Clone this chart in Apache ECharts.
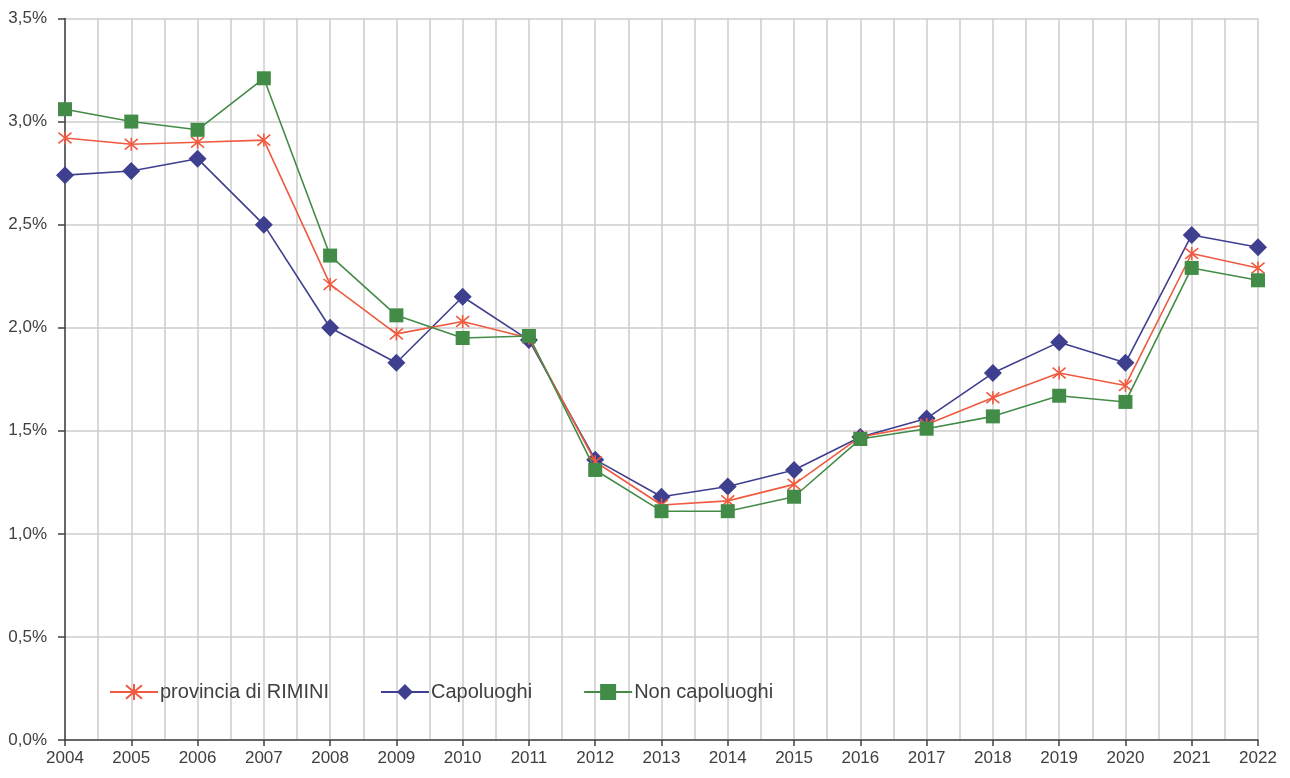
<!DOCTYPE html>
<html>
<head>
<meta charset="utf-8">
<script src="https://cdn.jsdelivr.net/npm/echarts@6/dist/echarts.min.js"></script>
<style>html,body{margin:0;padding:0;background:#fff}#c{width:1290px;height:778px}</style>
</head>
<body>
<div id="c"></div>
<script>
var years = [2004,2005,2006,2007,2008,2009,2010,2011,2012,2013,2014,2015,2016,2017,2018,2019,2020,2021,2022];
var provincia = [2.92,2.89,2.90,2.91,2.21,1.97,2.03,1.95,1.35,1.14,1.16,1.24,1.47,1.53,1.66,1.78,1.72,2.36,2.29];
var capoluoghi = [2.74,2.76,2.82,2.50,2.00,1.83,2.15,1.94,1.36,1.18,1.23,1.31,1.47,1.56,1.78,1.93,1.83,2.45,2.39];
var nonCapoluoghi = [3.06,3.00,2.96,3.21,2.35,2.06,1.95,1.96,1.31,1.11,1.11,1.18,1.46,1.51,1.57,1.67,1.64,2.29,2.23];
var seriesNames = ['provincia di RIMINI','Capoluoghi','Non capoluoghi'];

function pairs(arr){ return years.map(function(y,i){ return [y, arr[i]]; }); }

var font = "'Liberation Sans Narrow','Arial Narrow','Liberation Sans',Arial,sans-serif";
var chart = echarts.init(document.getElementById('c'), null, {renderer:'canvas'});
var asterisk = 'path://M0,0L10,10M10,0L0,10M5,-1L5,11';
chart.setOption({
  animation:false,
  backgroundColor:'#ffffff',
  grid:{left:65,right:32,top:18.5,bottom:38,containLabel:false},
  legend:{
    left:104, top:677, itemWidth:48, itemHeight:20, itemGap:51,
    textStyle:{fontFamily:font,fontSize:20,color:'#404040',padding:[0,0,0,-3]},
    data:seriesNames
  },
  xAxis:{
    type:'value', min:2004, max:2022, interval:1,
    axisLine:{show:true,lineStyle:{color:'#404040',width:1.5}},
    axisTick:{show:true,length:6,lineStyle:{color:'#404040',width:1.5}},
    minorTick:{show:false,splitNumber:2},
    splitLine:{show:true,lineStyle:{color:'#cccccc',width:1.5}},
    minorSplitLine:{show:true,lineStyle:{color:'#cccccc',width:1.5}},
    axisLabel:{color:'#404040',fontFamily:font,fontSize:17,margin:10,formatter:function(v){return String(v);}}
  },
  yAxis:{
    type:'value', min:0, max:3.5, interval:0.5,
    axisLine:{show:true,lineStyle:{color:'#404040',width:1.5}},
    axisTick:{show:true,length:7,lineStyle:{color:'#404040',width:1.5}},
    splitLine:{show:true,lineStyle:{color:'#cccccc',width:1.5}},
    axisLabel:{color:'#404040',fontFamily:font,fontSize:17,margin:18,formatter:function(v){return v.toFixed(1).replace('.',',')+'%';}}
  },
  series:[
    {name:seriesNames[0],type:'line',data:pairs(provincia),symbol:asterisk,symbolSize:13,z:3,
     itemStyle:{color:'#f05a40',borderColor:'#f05a40',borderWidth:1.6},
     lineStyle:{color:'#f05a40',width:1.6}},
    {name:seriesNames[1],type:'line',data:pairs(capoluoghi),symbol:'diamond',symbolSize:18,z:2,
     itemStyle:{color:'#3f3f8f'},lineStyle:{color:'#3f3f8f',width:1.6}},
    {name:seriesNames[2],type:'line',data:pairs(nonCapoluoghi),symbol:'rect',symbolSize:14,z:4,
     itemStyle:{color:'#438c48'},lineStyle:{color:'#438c48',width:1.6}}
  ]
});
</script>
</body>
</html>
